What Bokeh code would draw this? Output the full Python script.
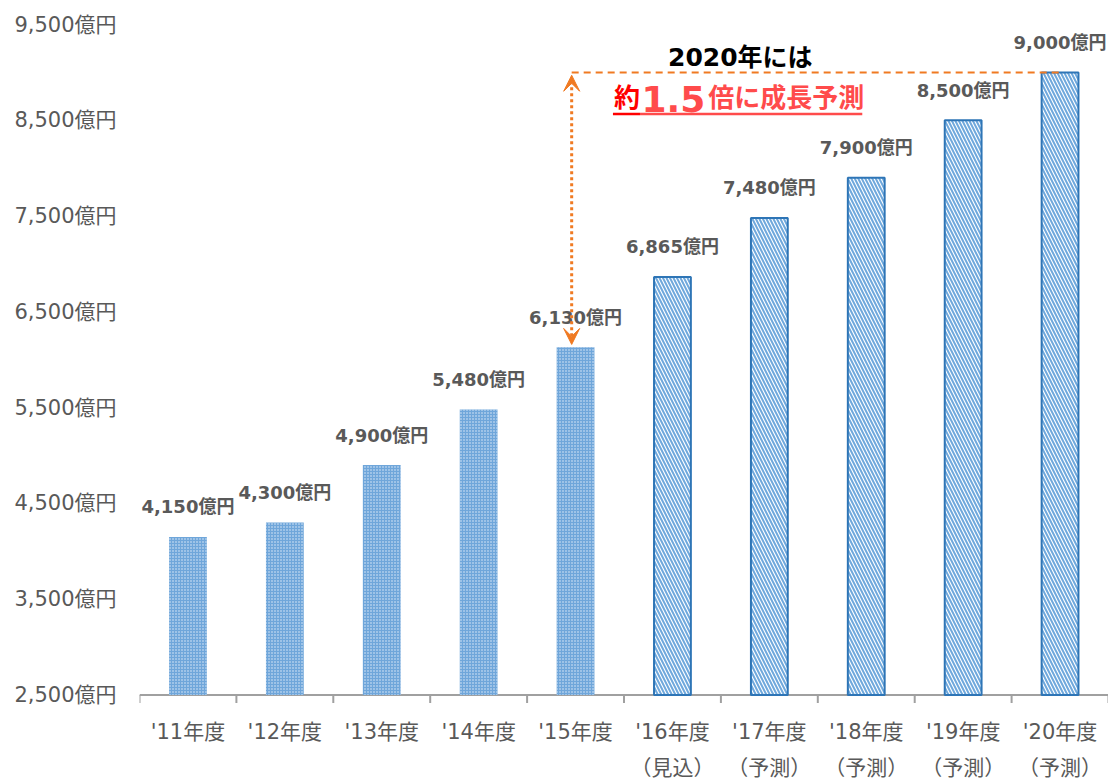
from bokeh.plotting import figure
from bokeh.models import (ColumnDataSource, Range1d, LinearAxis, FixedTicker, Arrow, VeeHead, Label)
from bokeh.core.properties import value
from bokeh.embed import file_html
from bokeh.resources import INLINE

# ---------------- data ----------------
categories = ["'11年度", "'12年度", "'13年度", "'14年度", "'15年度",
              "'16年度", "'17年度", "'18年度", "'19年度", "'20年度"]
sub_labels = ["", "", "", "", "", "（見込）", "（予測）", "（予測）", "（予測）", "（予測）"]
values = [4150, 4300, 4900, 5480, 6130, 6865, 7480, 7900, 8500, 9000]
is_actual = [True, True, True, True, True, False, False, False, False, False]
y_ticks = [2500, 3500, 4500, 5500, 6500, 7500, 8500, 9500]
unit = "億円"
headline = "2020年には"
growth_parts = ["約", "1.5", "倍に成長予測"]

GRAY = "#595959"
ORANGE = "#F07A22"
AXIS_GRAY = "#A0A0A0"
FONT = "DejaVu Sans, Noto Sans CJK JP"

n = len(categories)
centers = [i + 0.5 for i in range(n)]   # slot centre of each category
base = y_ticks[0]
PX = 1 / 0.09579                         # data units per screen pixel (vertical)

# the frame reaches the bottom of the canvas so the category labels can be drawn inside it
p = figure(width=1108, height=781, x_range=Range1d(0, n), y_range=Range1d(1597, 9500),
           output_backend="svg", toolbar_location=None, x_axis_location=None, y_axis_location=None,
           min_border_left=139, min_border_right=0, min_border_top=24, min_border_bottom=0)
p.grid.visible = False
p.outline_line_color = None

# y axis
yax = LinearAxis(ticker=FixedTicker(ticks=y_ticks))
yax.major_label_overrides = {t: f"{t:,}{unit}" for t in y_ticks}
yax.axis_line_color = None
yax.major_tick_line_color = None
yax.minor_tick_line_color = None
yax.major_tick_out = 0
yax.major_tick_in = 0
yax.major_label_standoff = 23
yax.major_label_text_font = FONT
yax.major_label_text_font_size = "21px"
yax.major_label_text_color = GRAY
p.add_layout(yax, "left")

# x baseline with ticks at category boundaries
p.segment(x0=[0], y0=[base], x1=[n], y1=[base], line_color=AXIS_GRAY, line_width=2)
bounds = list(range(n + 1))
p.segment(x0=bounds, y0=[base] * (n + 1), x1=bounds, y1=[base - 8 * PX] * (n + 1),
          line_color=AXIS_GRAY, line_width=2)

# category labels, two lines
cat_src = ColumnDataSource(dict(x=centers, t=categories, y=[base - 37 * PX] * n))
p.text(x="x", y="y", text="t", source=cat_src, text_align="center", text_baseline="middle",
       text_font=value(FONT), text_font_size="21px", text_color=GRAY)
sub_src = ColumnDataSource(dict(x=[c for c, s in zip(centers, sub_labels) if s],
                                t=[s for s in sub_labels if s],
                                y=[base - 73 * PX] * sum(1 for s in sub_labels if s)))
p.text(x="x", y="y", text="t", source=sub_src, text_align="center", text_baseline="middle",
       text_font=value(FONT), text_font_size="21px", text_color=GRAY)

src_a = ColumnDataSource(dict(x=[c for c, a in zip(centers, is_actual) if a],
                              top=[v for v, a in zip(values, is_actual) if a]))
src_f = ColumnDataSource(dict(x=[c for c, a in zip(centers, is_actual) if not a],
                              top=[v for v, a in zip(values, is_actual) if not a]))

p.vbar(x="x", top="top", bottom=base, width=0.39, source=src_a,
       fill_color="#6FA6DA", line_color=None,
       hatch_pattern="dot", hatch_color="#E3EEF9", hatch_scale=3, hatch_weight=1.5)
p.vbar(x="x", top="top", bottom=base, width=0.38, source=src_f,
       fill_color="white", line_color="#2E75B6", line_width=2,
       hatch_pattern="left_diagonal_line", hatch_color="#6FA8DC", hatch_scale=7, hatch_weight=2)

# data labels
lab_src = ColumnDataSource(dict(x=centers, y=values, t=[f"{v:,}{unit}" for v in values]))
p.text(x="x", y="y", text="t", source=lab_src, text_align="center", text_baseline="middle",
       y_offset=-30, text_font=value(FONT), text_font_size="18px", text_font_style="bold",
       text_color=GRAY)

# annotation: growth arrow and dashed reference line
i_start = categories.index("'15年度")
i_end = categories.index("'20年度")
xs = centers[i_start] - 0.04
xe = centers[i_end]
p.segment(x0=[xs], y0=[values[i_end]], x1=[xe], y1=[values[i_end]],
          line_color=ORANGE, line_width=2, line_dash="7 5")
p.add_layout(Arrow(start=VeeHead(size=16, fill_color=ORANGE, line_color=ORANGE),
                   end=VeeHead(size=16, fill_color=ORANGE, line_color=ORANGE),
                   x_start=xs, y_start=values[i_end] - 30, x_end=xs, y_end=values[i_start] + 30,
                   line_color=ORANGE, line_width=3, line_dash="3 3"))

p.add_layout(Label(x=6.20, y=9160, text=headline, text_align="center", text_baseline="middle",
                   text_font=FONT, text_font_size="25px", text_font_style="bold",
                   text_color="black"))
p.add_layout(Label(x=5.165, y=8732, text=growth_parts[0], text_align="right", text_baseline="middle",
                   text_font=FONT, text_font_size="26px", text_font_style="bold", text_color="#FF0000"))
p.add_layout(Label(x=5.51, y=8725, text=growth_parts[1], text_align="center", text_baseline="middle",
                   text_font=FONT, text_font_size="36px", text_font_style="bold", text_color="#FF4B4B"))
p.add_layout(Label(x=5.87, y=8732, text=growth_parts[2], text_align="left", text_baseline="middle",
                   text_font=FONT, text_font_size="26px", text_font_style="bold", text_color="#FF4B4B"))
p.segment(x0=[4.886, 5.165], y0=[8565, 8565], x1=[5.165, 7.459], y1=[8565, 8565],
          line_color=["#FF0000", "#FF4B4B"], line_width=2.5)

open("out.html", "w").write(file_html(p, INLINE))
